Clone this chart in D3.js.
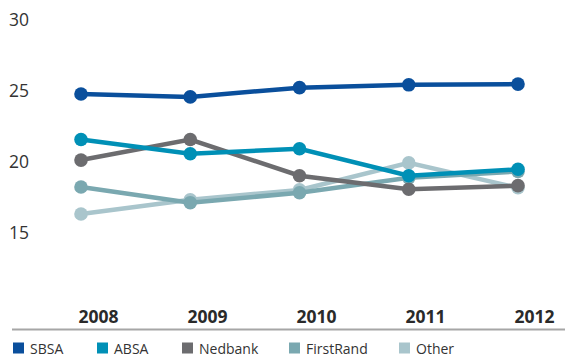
<!DOCTYPE html>
<html><head><meta charset="utf-8">
<script src="https://cdn.jsdelivr.net/npm/d3@7"></script>
<style>
html,body{margin:0;padding:0;background:#fff;}
svg{display:block;}
</style></head>
<body>
<svg id="chart" width="570" height="361"></svg>
<script>
const years = ["2008","2009","2010","2011","2012"];
const seriesNames = ["SBSA","ABSA","Nedbank","FirstRand","Other"];
const sbsa      = [24.75, 24.55, 25.2, 25.4, 25.45];
const absa      = [21.55, 20.55, 20.9, 19.0, 19.45];
const nedbank   = [20.1, 21.55, 19.0, 18.05, 18.3];
const firstrand = [18.2, 17.1, 17.8, 18.85, 19.3];
const other     = [16.3, 17.3, 18.0, 19.9, 18.15];
const yTicks = [15, 20, 25, 30];
const colors = ["#0a4f9c", "#0090b6", "#6c6c6f", "#7aa8b0", "#a9c5cc"];

const values = [sbsa, absa, nedbank, firstrand, other];
const series = seriesNames.map((n, i) => ({name: n, color: colors[i], vals: values[i]}));

const svg = d3.select("#chart");
const x = d3.scalePoint().domain(years).range([81, 518]);
const xLab = d3.scalePoint().domain(years).range([98, 534]);
const y = d3.scaleLinear().domain([10, 30]).range([303.5, 19.5]);

// y tick labels
const yAxis = svg.append("g").attr("transform", "translate(9,0)")
  .call(d3.axisRight(y).tickValues(yTicks).tickSize(0).tickPadding(0));
yAxis.select(".domain").remove();
yAxis.selectAll("text")
  .attr("font-family", "'Open Sans', sans-serif")
  .attr("font-size", "17.5px")
  .attr("fill", "#333")
  .attr("dy", "0.35em");

// x axis labels
const xAxis = svg.append("g").attr("transform", "translate(0,303)")
  .call(d3.axisBottom(xLab).tickSize(0).tickPadding(0));
xAxis.select(".domain").remove();
xAxis.selectAll("text")
  .attr("font-family", "'Open Sans', sans-serif")
  .attr("font-size", "17.5px")
  .attr("font-weight", "bold")
  .attr("fill", "#2a2a2a")
  .attr("dy", "0.71em")
  .attr("y", 8);

// baseline
svg.append("line")
  .attr("x1", 12).attr("x2", 565)
  .attr("y1", 329.5).attr("y2", 329.5)
  .attr("stroke", "#a6a6a6").attr("stroke-width", 2);

// lines, draw in reverse order so SBSA is on top
const line = d3.line().x((d, i) => x(years[i])).y(d => y(d));
const g = svg.append("g");
series.slice().reverse().forEach(s => {
  const sg = g.append("g");
  sg.append("path")
    .attr("d", line(s.vals))
    .attr("fill", "none")
    .attr("stroke", s.color)
    .attr("stroke-width", 4.5);
  sg.selectAll("circle").data(s.vals).enter().append("circle")
    .attr("cx", (d, i) => x(years[i]))
    .attr("cy", d => y(d))
    .attr("r", 6.8)
    .attr("fill", s.color);
});

// legend
const legX = [13, 97, 182, 289, 399];
const leg = svg.append("g");
series.forEach((s, i) => {
  const lg = leg.append("g").attr("transform", `translate(${legX[i]},342.5)`);
  lg.append("rect").attr("width", 11).attr("height", 11).attr("fill", s.color);
  lg.append("text")
    .attr("x", 17).attr("y", 11)
    .attr("font-family", "'Open Sans', sans-serif")
    .attr("font-size", "14px")
    .attr("fill", "#333")
    .text(s.name);
});
</script>
</body></html>
